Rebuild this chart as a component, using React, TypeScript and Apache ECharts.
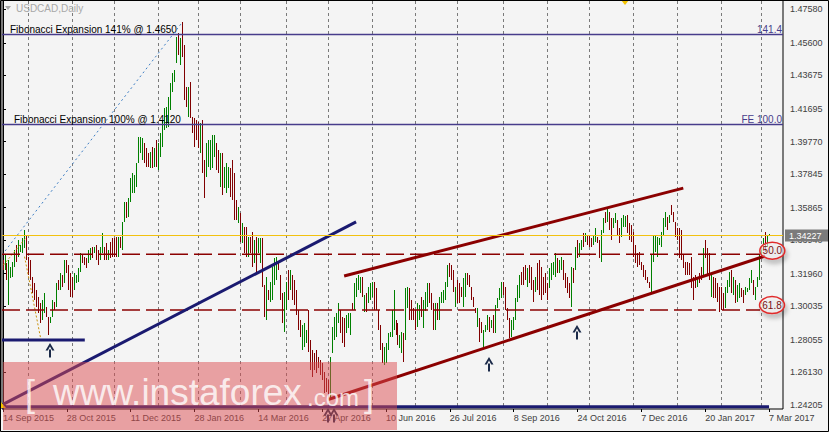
import { useEffect, useRef } from 'react';
import * as echarts from 'echarts';

// ---------- data ----------
const highs = [
  1.3277,1.3307,1.3258,1.3277,1.3238,1.3267,1.3336,1.3366,1.3395,1.3366,
  1.3405,1.3454,1.3425,1.3297,1.3277,1.3179,1.3139,1.3100,1.3061,1.3021,
  1.3041,1.3080,1.3002,1.2942,1.2942,1.3041,1.3031,1.3139,1.3159,1.3199,
  1.3189,1.3277,1.3277,1.3248,1.3199,1.3179,1.3199,1.3189,1.3228,1.3317,
  1.3307,1.3297,1.3287,1.3336,1.3346,1.3356,1.3356,1.3366,1.3336,1.3356,
  1.3435,1.3356,1.3376,1.3336,1.3386,1.3405,1.3405,1.3415,1.3415,1.3415,
  1.3504,1.3622,1.3622,1.3642,1.3760,1.3789,1.3779,1.3848,1.4006,1.4006,
  1.3996,1.3966,1.3937,1.3907,1.3917,1.3947,1.3937,1.3986,1.3966,1.4026,
  1.4104,1.4173,1.4183,1.4242,1.4321,1.4380,1.4400,1.4597,1.4616,1.4587,
  1.4685,1.4547,1.4301,1.4301,1.4331,1.4124,1.4114,1.4104,1.4095,1.4085,
  1.4104,1.3868,1.3966,1.3986,1.3986,1.4016,1.4016,1.3966,1.3927,1.3907,
  1.3907,1.3829,1.3848,1.3829,1.3819,1.3868,1.3789,1.3632,1.3592,1.3553,
  1.3494,1.3474,1.3474,1.3415,1.3415,1.3445,1.3395,1.3415,1.3405,1.3405,
  1.3405,1.3130,1.3179,1.3100,1.3150,1.3238,1.3287,1.3297,1.3268,1.3189,
  1.3081,1.3091,1.3150,1.3219,1.3219,1.3189,1.3159,1.3100,1.2982,1.2923,
  1.2894,1.2903,1.2864,1.2982,1.2805,1.2746,1.2726,1.2746,1.2707,1.2687,
  1.2667,1.2618,1.2579,1.2569,1.2707,1.2884,1.2943,1.2963,1.3022,1.2982,
  1.2943,1.2933,1.2953,1.2963,1.2963,1.3022,1.3140,1.3169,1.3189,1.3179,
  1.3179,1.3071,1.3081,1.3120,1.3140,1.3150,1.3150,1.3110,1.2982,1.2894,
  1.2785,1.2766,1.2785,1.2844,1.2854,1.2982,1.3101,1.2923,1.2904,1.2835,
  1.2854,1.2845,1.3110,1.3120,1.3110,1.3041,1.2992,1.2982,1.3022,1.3012,
  1.3061,1.3041,1.3091,1.3140,1.3140,1.3081,1.3022,1.3022,1.3022,1.3061,
  1.3091,1.3101,1.3150,1.3248,1.3258,1.3248,1.3219,1.3120,1.3160,1.3140,
  1.3120,1.3169,1.3199,1.3199,1.3189,1.3120,1.3061,1.2992,1.2992,1.2933,
  1.2913,1.2864,1.2894,1.2953,1.2943,1.2923,1.2953,1.3012,1.3051,1.3110,
  1.3150,1.3150,1.3120,1.2992,1.2933,1.2923,1.2943,1.3051,1.3130,1.3189,
  1.3209,1.3238,1.3248,1.3228,1.3248,1.3238,1.3159,1.3179,1.3258,1.3277,
  1.3238,1.3179,1.3199,1.3140,1.3228,1.3258,1.3268,1.3317,1.3287,1.3277,
  1.3297,1.3277,1.3199,1.3179,1.3140,1.3238,1.3228,1.3356,1.3396,1.3376,
  1.3396,1.3435,1.3435,1.3425,1.3425,1.3406,1.3425,1.3465,1.3415,1.3396,
  1.3455,1.3524,1.3563,1.3592,1.3563,1.3524,1.3524,1.3553,1.3514,1.3465,
  1.3524,1.3543,1.3537,1.3543,1.3494,1.3484,1.3445,1.3366,1.3317,1.3327,
  1.3268,1.3248,1.3218,1.3179,1.3149,1.3307,1.3420,1.3425,1.3415,1.3406,
  1.3445,1.3524,1.3563,1.3533,1.3543,1.3602,1.3563,1.3504,1.3465,1.3465,
  1.3455,1.3307,1.3268,1.3268,1.3258,1.3297,1.3179,1.3189,1.3179,1.3199,
  1.3238,1.3346,1.3396,1.3346,1.3317,1.3189,1.3179,1.3169,1.3140,1.3120,
  1.3120,1.3081,1.3120,1.3159,1.3209,1.3218,1.3179,1.3159,1.3130,1.3140,
  1.3110,1.3100,1.3120,1.3110,1.3169,1.3218,1.3159,1.3120,1.3179,1.3307,
  1.3337,1.3406,1.3445,1.3425,1.3430,
];

const lows = [
  1.3218,1.3218,1.3159,1.3011,1.3169,1.3179,1.3238,1.3267,1.3297,1.3326,
  1.3317,1.3346,1.3277,1.3189,1.3159,1.3080,1.3041,1.3002,1.2962,1.2903,
  1.2923,1.2962,1.2942,1.2834,1.2903,1.2942,1.2982,1.3002,1.3100,1.3100,
  1.3120,1.3139,1.3199,1.3100,1.3061,1.3061,1.3100,1.3139,1.3149,1.3208,
  1.3258,1.3248,1.3228,1.3258,1.3277,1.3287,1.3317,1.3277,1.3248,1.3277,
  1.3317,1.3277,1.3277,1.3277,1.3287,1.3297,1.3297,1.3297,1.3297,1.3346,
  1.3336,1.3504,1.3523,1.3533,1.3622,1.3671,1.3671,1.3711,1.3848,1.3907,
  1.3868,1.3848,1.3829,1.3829,1.3819,1.3819,1.3829,1.3829,1.3809,1.3888,
  1.3947,1.4045,1.4055,1.4065,1.4163,1.4272,1.4331,1.4439,1.4488,1.4429,
  1.4478,1.4222,1.4183,1.4124,1.4114,1.4026,1.3947,1.3986,1.3937,1.3907,
  1.3789,1.3642,1.3770,1.3829,1.3809,1.3819,1.3888,1.3809,1.3789,1.3711,
  1.3661,1.3701,1.3671,1.3701,1.3651,1.3632,1.3514,1.3514,1.3494,1.3386,
  1.3376,1.3317,1.3297,1.3297,1.3317,1.3238,1.3258,1.3189,1.3317,1.3258,
  1.3120,1.2943,1.2923,1.3041,1.3031,1.3041,1.3130,1.3159,1.3219,1.3041,
  1.2903,1.2854,1.2982,1.3041,1.3100,1.3041,1.3012,1.2953,1.2864,1.2825,
  1.2746,1.2766,1.2785,1.2736,1.2628,1.2588,1.2628,1.2608,1.2638,1.2598,
  1.2569,1.2490,1.2500,1.2451,1.2451,1.2726,1.2805,1.2825,1.2903,1.2844,
  1.2785,1.2766,1.2844,1.2874,1.2835,1.2982,1.2982,1.3061,1.3100,1.3081,
  1.3061,1.2972,1.2972,1.3022,1.3041,1.3061,1.2982,1.2982,1.2864,1.2746,
  1.2667,1.2657,1.2667,1.2746,1.2825,1.2825,1.2864,1.2835,1.2776,1.2756,
  1.2726,1.2677,1.2805,1.2992,1.2923,1.2923,1.2923,1.2864,1.2884,1.2923,
  1.2943,1.2874,1.2973,1.3002,1.3022,1.2982,1.2864,1.2864,1.2923,1.2923,
  1.3022,1.3022,1.3041,1.3120,1.3179,1.3160,1.3091,1.3002,1.3022,1.3022,
  1.3061,1.3002,1.3061,1.3130,1.3120,1.3041,1.3002,1.2963,1.2884,1.2795,
  1.2845,1.2756,1.2854,1.2864,1.2854,1.2874,1.2845,1.2845,1.2992,1.3041,
  1.3051,1.3071,1.2982,1.2923,1.2815,1.2825,1.2864,1.2923,1.3032,1.3051,
  1.3130,1.3130,1.3159,1.3120,1.3140,1.3100,1.3031,1.3090,1.3100,1.3071,
  1.3041,1.3071,1.3081,1.3041,1.3110,1.3159,1.3189,1.3179,1.3199,1.3199,
  1.3218,1.3159,1.3110,1.3081,1.3051,1.3002,1.3140,1.3218,1.3287,1.3297,
  1.3337,1.3356,1.3386,1.3366,1.3356,1.3356,1.3366,1.3386,1.3376,1.3287,
  1.3268,1.3435,1.3494,1.3504,1.3455,1.3396,1.3465,1.3494,1.3425,1.3376,
  1.3415,1.3474,1.3474,1.3435,1.3396,1.3386,1.3297,1.3258,1.3238,1.3248,
  1.3218,1.3179,1.3159,1.3140,1.3110,1.3090,1.3268,1.3327,1.3297,1.3366,
  1.3356,1.3425,1.3474,1.3455,1.3494,1.3543,1.3504,1.3415,1.3396,1.3287,
  1.3277,1.3228,1.3189,1.3189,1.3189,1.3110,1.3041,1.3110,1.3120,1.3140,
  1.3159,1.3189,1.3287,1.3189,1.3159,1.3061,1.3051,1.3051,1.3031,1.2972,
  1.2982,1.2982,1.2992,1.3081,1.3120,1.3081,1.3071,1.3021,1.3031,1.3051,
  1.3061,1.3021,1.3071,1.3090,1.3100,1.3140,1.3071,1.3041,1.3120,1.3159,
  1.3307,1.3366,1.3327,1.3356,1.3418,
];

// 1 = bullish bar (green), 0 = bearish bar (maroon)
const ups = [
  0,1,0,1,1,1,1,0,1,1, 1,1,0,0,0,0,0,0,0,0, 1,1,0,0,1,1,0,1,0,1, 0,1,0,0,0,0,1,1,1,1,
  0,0,0,1,1,0,1,0,0,1, 1,0,0,1,0,0,0,0,1,0, 1,1,0,1,1,1,1,1,1,1, 1,0,0,0,1,0,1,0,1,1,
  1,1,1,1,1,1,1,1,0,1, 0,0,0,1,0,0,0,0,0,1, 0,0,1,1,1,1,1,0,0,1, 0,1,1,1,0,0,0,0,1,0,
  1,0,0,1,0,0,1,0,1,1, 0,0,1,0,1,1,1,1,0,0, 0,1,1,0,1,0,0,0,0,0, 1,1,1,0,0,0,0,0,0,0,
  0,0,0,0,1,1,1,1,1,0, 0,0,1,1,1,0,1,1,1,1, 0,1,0,1,1,1,0,0,0,0, 0,1,1,1,1,1,1,0,0,1,
  1,0,1,1,0,0,0,0,1,1, 0,1,1,1,0,0,0,1,0,1, 1,1,1,1,0,0,0,1,0,0, 0,1,1,0,0,0,0,0,1,0,
  0,1,1,1,0,1,0,1,1,1, 1,0,0,0,0,1,1,1,1,1, 0,0,0,1,0,0,0,1,0,0, 0,0,0,0,1,1,1,1,0,1,
  1,0,0,0,0,1,0,1,0,1, 1,0,1,0,0,0,1,1,0,0, 1,1,0,1,0,0,1,1,0,0, 1,1,1,0,0,0,0,0,0,0,
  0,0,0,0,0,1,1,1,1,1, 1,1,1,0,1,0,0,0,0,0, 0,0,0,0,0,0,0,0,1,0, 0,1,0,0,0,1,0,0,0,0,
  0,0,1,1,1,0,1,0,1,1, 0,0,1,1,1,1,0,1,1,1, 1,1,0,1,1,
];

const lastPrice = 1.34227;

// price-axis tick labels and date tick labels
const yTicks = [1.4758, 1.456, 1.43675, 1.41695, 1.3977, 1.37845, 1.35865, 1.3394, 1.3196, 1.30035, 1.28055, 1.2613, 1.24205];
const xTickIdx = [0, 32, 64, 96, 128, 160, 192, 224, 256, 288, 320, 352, 384];
const xTickLabels = ['14 Sep 2015', '28 Oct 2015', '11 Dec 2015', '28 Jan 2016', '14 Mar 2016', '27 Apr 2016', '10 Jun 2016', '26 Jul 2016', '8 Sep 2016', '24 Oct 2016', '7 Dec 2016', '20 Jan 2017', '7 Mar 2017'];

// Fibonacci expansion levels
const feLevels = [1.4610, 1.4079];
const feLeftText = ['Fibonacci Expansion 141% @ 1.4650', 'Fibonacci Expansion 100% @ 1.4120'];
const feRightText = ['141.4', 'FE 100.0'];

// drawn objects (bar index, price)
const fibDotted = [[-0.5, 1.3307], [90, 1.4683]];
const orangeUp = [[0.3, 1.3248], [11.2, 1.3405]];
const orangeDown = [[10.8, 1.3297], [19.2, 1.2795]];
const navyTrend = [[-0.5, 1.2421], [177, 1.3502]];
const channelUpper = [[171, 1.3183], [341, 1.3702]];
const channelLower = [[163, 1.2453], [382, 1.3301]];
const bottomSupport = [[-0.5, 1.2411], [384, 1.2411]];
const octSupport = [[-0.5, 1.2805], [41, 1.2805]];
const level50 = [[-0.5, 1.3311], [379.5, 1.3311]];
const level618 = [[-0.5, 1.2982], [379.5, 1.2982]];
const arrowPts = [[23.35, 1.2787], [243.65, 1.2704], [287.85, 1.2893], [162.75, 1.2403], [166, 1.2403]];
const ringPts = [[385.65, 1.3332], [385.5, 1.3011]];
const ringText = ['50.0', '61.8'];

// ---------- helpers ----------
const FONT = '"Liberation Sans", Arial, sans-serif';
const GREEN = '#008000';
const MAROON = '#800000';
const DARKRED = '#8b0000';
const NAVY = '#1a1a70';
const FIB = '#473c8b';

function monthStartIndices(count: number): number[] {
  const holidays = ['2015-11-25', '2016-0-1'];
  const days: Date[] = [];
  const d = new Date(2015, 8, 14);
  while (days.length < count) {
    const wd = d.getDay();
    const key = `${d.getFullYear()}-${d.getMonth()}-${d.getDate()}`;
    if (wd !== 0 && wd !== 6 && !holidays.includes(key)) days.push(new Date(d));
    d.setDate(d.getDate() + 1);
  }
  const out: number[] = [];
  for (let i = 1; i < days.length; i++) if (days[i].getMonth() !== days[i - 1].getMonth()) out.push(i);
  return out;
}

function seg(data: number[][], color: string, width: number, type: any, z = 5) {
  return {
    type: 'line',
    data,
    symbol: 'none',
    silent: true,
    animation: false,
    z,
    lineStyle: { color, width, type, cap: 'butt' },
  };
}

function buildOption() {
  const bars = highs.map((h, i) => [i, h, lows[i], ups[i]]);
  const months = monthStartIndices(highs.length).map((i) => [i, 1.3]);
  return {
    animation: false,
    backgroundColor: '#f4f4f4',
    grid: {
      left: 0, top: 0, width: 783, height: 409,
      show: true, borderColor: '#000', borderWidth: 1, backgroundColor: '#f4f4f4',
    },
    xAxis: {
      type: 'value', min: -0.5, max: 391,
      axisLine: { show: false },
      splitLine: { show: false },
      axisTick: { show: true, customValues: xTickIdx, length: 3, lineStyle: { color: '#000' } },
      axisLabel: {
        customValues: xTickIdx,
        formatter: (v: number) => xTickLabels[xTickIdx.indexOf(Math.round(v))] ?? '',
        align: 'left', margin: 4, fontSize: 9, color: '#404040', fontFamily: FONT,
      },
    },
    yAxis: {
      type: 'value', position: 'right', min: 1.2397, max: 1.4813, scale: true,
      axisLine: { show: true, lineStyle: { color: '#000' } },
      splitLine: { show: false },
      axisTick: { show: true, customValues: yTicks, length: 3, lineStyle: { color: '#000' } },
      axisLabel: {
        customValues: yTicks,
        formatter: (v: number) => v.toFixed(5),
        margin: 7, fontSize: 9, color: '#404040', fontFamily: FONT,
      },
    },
    series: [
      // monthly separators
      {
        type: 'custom', silent: true, z: 1, clip: false,
        data: months, encode: { x: 0, y: 1 },
        renderItem: (params: any, api: any) => {
          const cs = params.coordSys;
          const x = Math.floor(api.coord([api.value(0), 1.3])[0]) + 0.5;
          return {
            type: 'line',
            shape: { x1: x, y1: cs.y + 1, x2: x, y2: cs.y + cs.height },
            style: { stroke: '#7a7a7a', lineWidth: 1, lineDash: [3, 3] },
          };
        },
      },
      // Fibonacci expansion levels
      {
        type: 'custom', silent: true, z: 4, clip: false,
        data: feLevels.map((v, k) => [k, v]), encode: { x: 0, y: 1 },
        renderItem: (params: any, api: any) => {
          const cs = params.coordSys;
          const k = params.dataIndex;
          const y = Math.round(api.coord([0, api.value(1)])[1]) + 0.5;
          return {
            type: 'group',
            children: [
              { type: 'line', shape: { x1: cs.x, y1: y, x2: cs.x + cs.width, y2: y }, style: { stroke: FIB, lineWidth: 1.5 } },
              { type: 'text', x: cs.x + (k === 0 ? 8 : 12), y: y - 5, style: { text: feLeftText[k], fill: '#000', font: `10px ${FONT}`, align: 'left', verticalAlign: 'middle' } },
              { type: 'text', x: cs.x + cs.width - 1, y: y - 5, style: { text: feRightText[k], fill: FIB, font: `10px ${FONT}`, align: 'right', verticalAlign: 'middle' } },
            ],
          };
        },
      },
      // OHLC bars
      {
        type: 'custom', silent: true, z: 3, clip: false,
        data: bars, encode: { x: 0, y: [1, 2] },
        renderItem: (params: any, api: any) => {
          const i = api.value(0);
          const top = api.coord([i, api.value(1)]);
          const bot = api.coord([i, api.value(2)]);
          const x = Math.floor(top[0] + 0.01) + 0.5;
          const y1 = Math.round(top[1]);
          let y2 = Math.round(bot[1]);
          if (y2 - y1 < 2) y2 = y1 + 2;
          return {
            type: 'line',
            shape: { x1: x, y1, x2: x, y2 },
            style: { stroke: api.value(3) ? GREEN : MAROON, lineWidth: 1 },
          };
        },
      },
      seg(fibDotted, '#3f7fc4', 1, [2, 3]),
      seg(orangeUp, '#c8900a', 1, [2, 2]),
      seg(orangeDown, '#c8900a', 1, [2, 2]),
      seg(level50, DARKRED, 1.5, [18, 6]),
      seg(level618, DARKRED, 1.5, [18, 6]),
      seg(navyTrend, NAVY, 3, 'solid', 6),
      seg(octSupport, NAVY, 3, 'solid', 6),
      seg(bottomSupport, NAVY, 3, 'solid', 6),
      seg(channelUpper, DARKRED, 3, 'solid', 6),
      seg(channelLower, DARKRED, 3, 'solid', 6),
      // current price line and price box
      {
        type: 'custom', silent: true, z: 7, clip: false,
        data: [[0, lastPrice]], encode: { x: 0, y: 1 },
        renderItem: (params: any, api: any) => {
          const cs = params.coordSys;
          const y = Math.round(api.coord([0, api.value(1)])[1]) + 0.5;
          const bx = cs.x + cs.width + 2;
          return {
            type: 'group',
            children: [
              { type: 'line', shape: { x1: cs.x, y1: y, x2: cs.x + cs.width, y2: y }, style: { stroke: '#f2c10f', lineWidth: 1 } },
              { type: 'rect', shape: { x: bx, y: y - 6, width: 44, height: 12 }, style: { fill: '#7b7b7b' } },
              { type: 'text', x: bx + 4, y: y, style: { text: lastPrice.toFixed(5), fill: '#ffffff', font: `9px ${FONT}`, align: 'left', verticalAlign: 'middle' } },
            ],
          };
        },
      },
      // up arrows
      {
        type: 'custom', silent: true, z: 8, clip: false,
        data: arrowPts, encode: { x: 0, y: 1 },
        renderItem: (params: any, api: any) => {
          const p = api.coord([api.value(0), api.value(1)]);
          const cx = Math.round(p[0]);
          const ty = Math.round(p[1]);
          const c = '#1b2a49';
          return {
            type: 'group',
            children: [
              { type: 'polygon', shape: { points: [[cx - 4.5, ty + 7.5], [cx, ty], [cx + 4.5, ty + 7.5], [cx + 2.2, ty + 7.5], [cx, ty + 3.6], [cx - 2.2, ty + 7.5]] }, style: { fill: c } },
              { type: 'rect', shape: { x: cx - 1, y: ty + 6.5, width: 2, height: 8 }, style: { fill: c } },
            ],
          };
        },
      },
      // 50.0 / 61.8 circled labels
      {
        type: 'custom', silent: true, z: 9, clip: false,
        data: ringPts, encode: { x: 0, y: 1 },
        renderItem: (params: any, api: any) => {
          const p = api.coord([api.value(0), api.value(1)]);
          return {
            type: 'group',
            children: [
              { type: 'ellipse', shape: { cx: p[0], cy: p[1], rx: 12.5, ry: 8.5 }, style: { fill: 'rgba(244,244,244,0.6)', stroke: '#e02a2a', lineWidth: 1.5, shadowBlur: 4, shadowColor: 'rgba(0,0,0,0.3)', shadowOffsetX: 2, shadowOffsetY: 4 } },
              { type: 'text', x: p[0], y: p[1], style: { text: ringText[params.dataIndex], fill: '#7a1010', font: `10px ${FONT}`, align: 'center', verticalAlign: 'middle' } },
            ],
          };
        },
      },
    ],
    graphic: [
      { type: 'polygon', z: 50, shape: { points: [[5, 6], [11, 6], [8, 10]] }, style: { fill: '#a8a8a8' } },
      { type: 'text', z: 50, x: 16, y: 8, style: { text: 'USDCAD,Daily', fill: '#a8a8a8', font: `10px ${FONT}`, verticalAlign: 'middle' } },
      { type: 'polygon', z: 50, shape: { points: [[621, 0], [629, 0], [625, 5]] }, style: { fill: '#f5c400' } },
      { type: 'polygon', z: 50, shape: { points: [[1, 402], [6, 408], [1, 408]] }, style: { fill: '#f5c400' } },
      { type: 'rect', z: 100, shape: { x: 3, y: 362, width: 394, height: 68 }, style: { fill: 'rgba(220,76,80,0.5)' } },
      { type: 'text', z: 101, x: 25, y: 393, style: { text: '[', fill: 'rgba(255,255,255,0.8)', font: `36px ${FONT}`, verticalAlign: 'middle' } },
      { type: 'text', z: 101, x: 53, y: 392, style: { text: 'www.instaforex', fill: 'rgba(255,255,255,0.8)', font: `37px ${FONT}`, verticalAlign: 'middle' } },
      { type: 'text', z: 101, x: 307, y: 397, style: { text: '.com', fill: 'rgba(255,255,255,0.8)', font: `24px ${FONT}`, verticalAlign: 'middle' } },
      { type: 'text', z: 101, x: 364, y: 393, style: { text: ']', fill: 'rgba(255,255,255,0.8)', font: `36px ${FONT}`, verticalAlign: 'middle' } },
      { type: 'rect', z: 120, shape: { x: 0.5, y: 0.5, width: 828, height: 431 }, style: { fill: 'none', stroke: '#000', lineWidth: 1 } },
    ],
  };
}

export default function App() {
  const ref = useRef<HTMLDivElement>(null);
  useEffect(() => {
    if (!ref.current) return;
    const chart = echarts.init(ref.current, null, { renderer: 'svg' });
    chart.setOption(buildOption() as any);
    return () => chart.dispose();
  }, []);
  return <div ref={ref} style={{ position: 'absolute', left: 0, top: 0, width: 829, height: 432 }} />;
}
